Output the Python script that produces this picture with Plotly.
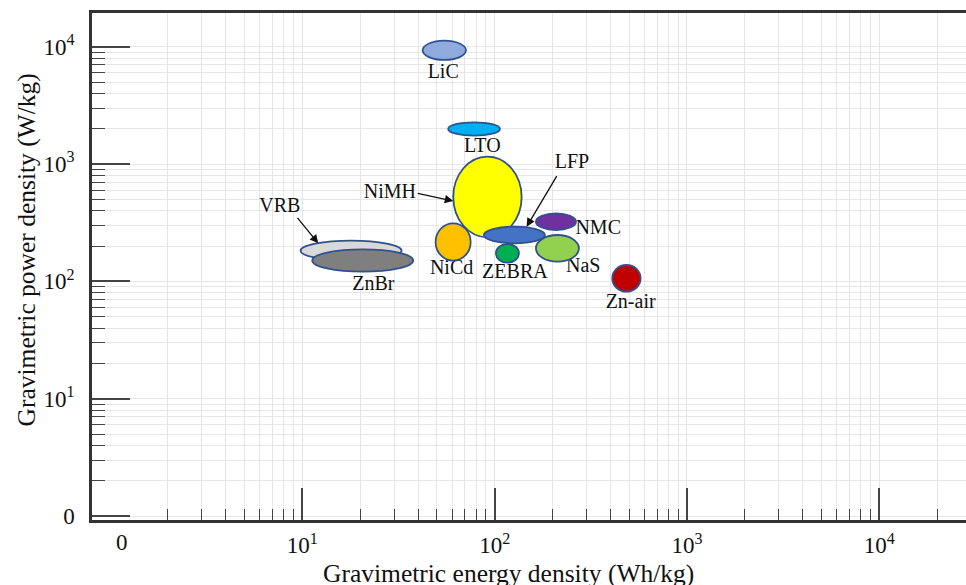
import numpy as np
import plotly.graph_objects as go

# ---- data ----
names = ["VRB", "ZnBr", "LiC", "LTO", "NiMH", "NiCd", "LFP", "ZEBRA", "NMC", "NaS", "Zn-air"]
energy_low = [9.79, 11.25, 42.2, 57.3, 60.9, 49.3, 87.9, 101.5, 163.9, 163.9, 408.7]
energy_high = [32.8, 37.7, 70.9, 106.5, 138.1, 75.0, 182.5, 133.7, 264.6, 274.2, 574.1]
power_low = [150.2, 121.0, 7720, 1746, 237.7, 150.2, 211.3, 144.3, 274.3, 147.2, 81.7]
power_high = [222.3, 187.8, 11270, 2272, 1157, 312.9, 292.7, 208.4, 380.7, 248.6, 138.0]
label_energy = [7.64, 23.4, 54.0, 86.2, 28.5, 59.7, 252.2, 127.4, 345.5, 288.7, 509.3]
label_power = [433.4, 93.2, 6017, 1407, 570.5, 126.8, 1016, 118.6, 278.1, 131.9, 65.8]

# arrows: labelled item -> point on the ellipse the arrow touches
arrow_names = ["VRB", "NiMH", "LFP"]
arrow_energy = [12.09, 60.9, 146.6]
arrow_power = [211.3, 484.8, 292.7]

x_tick_vals = [10, 100, 1000, 10000]
x_tick_text = ["10<sup>1</sup>", "10<sup>2</sup>", "10<sup>3</sup>", "10<sup>4</sup>"]
y_tick_vals = [1, 10, 100, 1000, 10000]
y_tick_text = ["0", "10<sup>1</sup>", "10<sup>2</sup>", "10<sup>3</sup>", "10<sup>4</sup>"]
x_title = "Gravimetric energy density (Wh/kg)"
y_title = "Gravimetric power density (W/kg)"

# ---- styles ----
fills = {
    "VRB": "#D9D9D9", "ZnBr": "#7F7F7F", "LiC": "#8FAADC", "LTO": "#00B0F0",
    "NiMH": "#FFFF00", "NiCd": "#FFC000", "LFP": "#4472C4", "ZEBRA": "#00B050",
    "NMC": "#7030A0", "NaS": "#92D050", "Zn-air": "#C00000",
}
outline = "#2F528F"
arrow_tails = {"VRB": (-22, -27), "NiMH": (-37, -8), "LFP": (31, -52)}
serif = "Liberation Serif, Times New Roman, serif"
ink = "#111111"

minor_vals = [m * 10 ** d for d in range(0, 5) for m in range(2, 10)]

fig = go.Figure()

for i, n in enumerate(names):
    fig.add_shape(
        type="circle", xref="x", yref="y",
        x0=energy_low[i], x1=energy_high[i], y0=power_low[i], y1=power_high[i],
        fillcolor=fills[n], line=dict(color=outline, width=1.8), layer="above",
    )

fig.add_trace(go.Scatter(
    x=label_energy, y=label_power, text=names, mode="text",
    textposition="middle center",
    textfont=dict(family=serif, size=20, color=ink),
    hoverinfo="skip", showlegend=False,
))

for i, n in enumerate(arrow_names):
    ax, ay = arrow_tails[n]
    fig.add_annotation(
        x=np.log10(arrow_energy[i]), y=np.log10(arrow_power[i]), xref="x", yref="y",
        text="", showarrow=True, ax=ax, ay=ay, arrowhead=2, arrowsize=1.3,
        arrowwidth=1.3, arrowcolor=ink, standoff=0,
    )

# "0" label on the energy axis (no tick mark there in the reference)
fig.add_annotation(
    x=0.06, y=0, xref="x", yref="paper", text="0", showarrow=False,
    yanchor="middle", yshift=-22, font=dict(family=serif, size=23, color=ink),
)

# axis titles (placed as in the reference, not centred on the plot area)
fig.add_annotation(
    x=0.476, y=0, xref="paper", yref="paper", text=x_title, showarrow=False,
    xanchor="center", yanchor="middle", yshift=-53, borderpad=0,
    font=dict(family=serif, size=25.5, color=ink),
)
fig.add_annotation(
    x=-0.0744, y=0.5335, xref="paper", yref="paper", text=y_title, showarrow=False,
    textangle=-90, xanchor="center", yanchor="middle",
    font=dict(family=serif, size=25.5, color=ink),
)

grid = "#E6E6E6"
fig.update_xaxes(
    type="log", range=[-0.094, 4.451],
    showline=True, linecolor="#333333", linewidth=2.5, mirror=True,
    tickmode="array", tickvals=x_tick_vals, ticktext=x_tick_text,
    ticks="inside", ticklen=32, tickwidth=1.5, tickcolor="#444444",
    showgrid=True, gridcolor=grid, gridwidth=1.2, zeroline=False,
    tickfont=dict(family=serif, size=23, color=ink), ticklabelstandoff=3,
    minor=dict(tickmode="array", tickvals=minor_vals, ticks="inside", ticklen=11,
               tickwidth=1.3, tickcolor="#444444", showgrid=True, gridcolor=grid, gridwidth=1),
)
fig.update_yaxes(
    type="log", range=[-0.034, 4.288],
    showline=True, linecolor="#333333", linewidth=2.5, mirror=False,
    tickmode="array", tickvals=y_tick_vals, ticktext=y_tick_text,
    ticks="inside", ticklen=38, tickwidth=1.5, tickcolor="#444444",
    showgrid=True, gridcolor=grid, gridwidth=1.2, zeroline=False,
    tickfont=dict(family=serif, size=23, color=ink), ticklabelstandoff=10,
    minor=dict(tickmode="array", tickvals=minor_vals, ticks="inside", ticklen=13,
               tickwidth=1.3, tickcolor="#444444", showgrid=True, gridcolor=grid, gridwidth=1),
)

fig.update_layout(
    width=966, height=585,
    margin=dict(l=92, r=0, t=13, b=65, autoexpand=False),
    paper_bgcolor="white", plot_bgcolor="white",
    showlegend=False,
)

fig.write_html(
    "out.html",
    config={"displayModeBar": False},
    post_script="document.body.style.margin='0';document.body.style.padding='0';"
                "document.body.style.overflow='hidden';",
)
